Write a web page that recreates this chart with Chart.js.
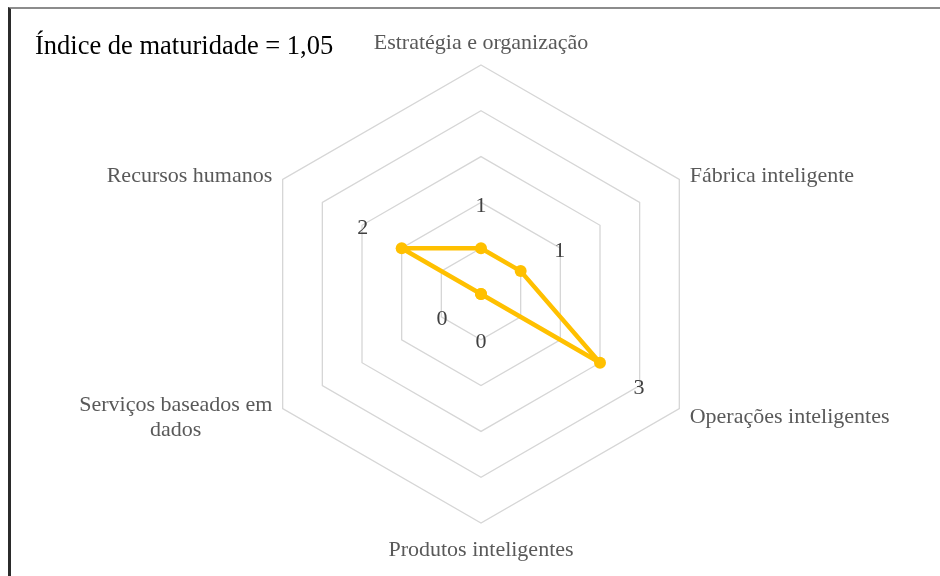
<!DOCTYPE html>
<html>
<head>
<meta charset="utf-8">
<script src="https://cdn.jsdelivr.net/npm/chart.js@4.4.0/dist/chart.umd.min.js"></script>
<style>
    html, body { margin: 0; padding: 0; background: #fff; }
    #wrap { position: relative; width: 940px; height: 576px; overflow: hidden; }
    #frame {
        position: absolute; left: 8px; top: 7px; right: -10px; bottom: -10px;
        border-left: 3px solid #2b2b2b; border-top: 2px solid #8c8c8c;
    }
    #title {
        position: absolute; left: 35px; top: 30px; white-space: nowrap;
        font-family: "Liberation Serif", Tinos, "DejaVu Serif", serif;
        font-size: 26.5px; color: #000;
    }
    canvas { position: absolute; left: 0; top: 0; }
</style>
</head>
<body>
<div id="wrap">
    <div id="frame"></div>
    <canvas id="chart" width="940" height="576"></canvas>
    <div id="title">Índice de maturidade = 1,05</div>
</div>
<script>
const categories = [
    "Estratégia e organização",
    "Fábrica inteligente",
    "Operações inteligentes",
    "Produtos inteligentes",
    ["Serviços baseados em", "dados"],
    "Recursos humanos"
];
const scores = [1, 1, 3, 0, 0, 2];
const scaleMin = 0;
const scaleMax = 5;
const scaleStep = 1;

(function () {

    const serif = '"Liberation Serif", Tinos, "DejaVu Serif", serif';
    const textShift = 3; // middle baseline sits a bit high

    // axis names and value labels, placed with the radial scale
    const radarLabels = {
        id: "radarLabels",
        afterDatasetsDraw(chart) {
            const ctx = chart.ctx;
            const scale = chart.scales.r;
            ctx.save();

            ctx.font = "22px " + serif;
            ctx.fillStyle = "#595959";
            categories.forEach((label, i) => {
                const lines = Array.isArray(label) ? label : [label];
                const pos = scale.getPointPosition(i, scale.drawingArea + 12);
                const cos = Math.cos(pos.angle);
                const sin = Math.sin(pos.angle);
                const lineHeight = 25;
                const widths = lines.map(l => ctx.measureText(l).width);
                const blockW = Math.max(...widths);
                let cx = pos.x;
                if (cos > 0.01) cx = pos.x + blockW / 2;
                if (cos < -0.01) cx = pos.x - blockW / 2;
                let top;
                if (Math.abs(cos) <= 0.01) {
                    top = sin < 0 ? pos.y - lines.length * lineHeight : pos.y;
                } else {
                    top = pos.y - lines.length * lineHeight / 2;
                }
                ctx.textAlign = "center";
                ctx.textBaseline = "middle";
                lines.forEach((l, k) => ctx.fillText(l, cx, top + lineHeight * (k + 0.5) + textShift));
            });

            ctx.font = "22px " + serif;
            ctx.fillStyle = "#404040";
            ctx.textAlign = "center";
            ctx.textBaseline = "middle";
            scores.forEach((v, i) => {
                const pos = scale.getPointPosition(i, scale.getDistanceFromCenterForValue(v) + 45);
                ctx.fillText(String(Math.round(v)), pos.x, pos.y + textShift);
            });

            ctx.restore();
        }
    };

    new Chart(document.getElementById("chart"), {
        type: "radar",
        data: {
            labels: categories,
            datasets: [{
                label: "Maturidade",
                data: scores,
                borderColor: "#FFC000",
                backgroundColor: "rgba(0,0,0,0)",
                borderWidth: 4.5,
                borderJoinStyle: "round",
                fill: false,
                pointRadius: 6,
                pointBackgroundColor: "#FFC000",
                pointBorderWidth: 0
            }]
        },
        options: {
            responsive: false,
            animation: false,
            devicePixelRatio: 1,
            layout: { padding: { top: 65, bottom: 52, left: 23, right: 0 } },
            plugins: {
                legend: { display: false },
                tooltip: { enabled: false }
            },
            scales: {
                r: {
                    min: scaleMin,
                    max: scaleMax,
                    ticks: { display: false, stepSize: scaleStep },
                    angleLines: { display: false },
                    pointLabels: { display: false },
                    grid: { color: "#d6d6d6", lineWidth: 1.3 }
                }
            }
        },
        plugins: [radarLabels]
    });
})();
</script>
</body>
</html>
